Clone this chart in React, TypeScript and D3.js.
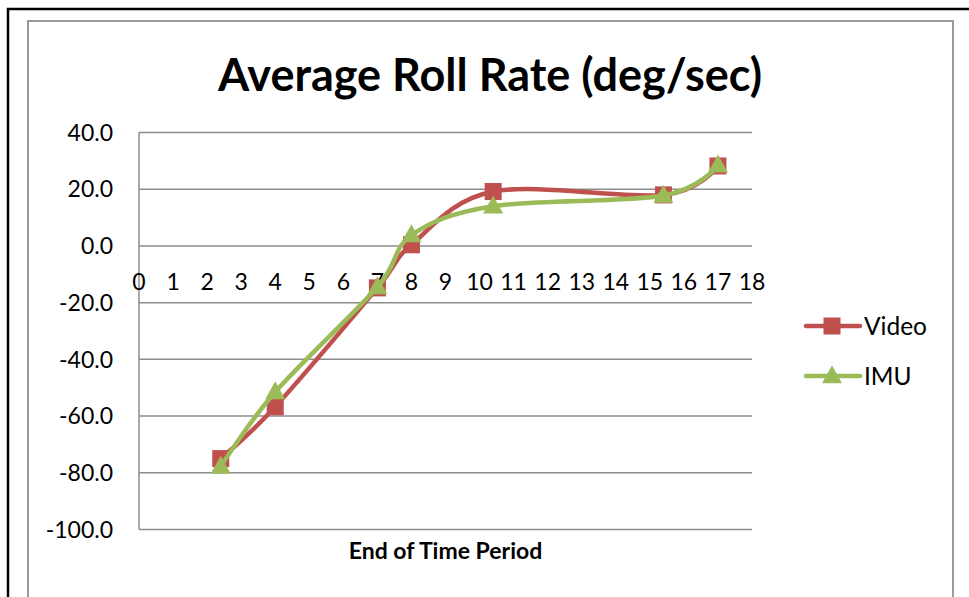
import React, { useEffect } from "react";
import * as d3 from "d3";

const seriesNames = ["Video", "IMU"];
const timePoints = [2.4, 4.0, 7.0, 8.0, 10.4, 15.4, 17.0];
const videoValues = [-75.0, -56.7, -14.8, 0.4, 19.2, 18.0, 28.2];
const imuValues = [-77.8, -51.5, -14.5, 3.8, 14.0, 17.8, 28.4];
const xTickValues = d3.range(0, 19);
const yTickValues = [40, 20, 0, -20, -40, -60, -80, -100];

const W = 969;
const H = 597;
const FONT = "Lato, 'Open Sans', sans-serif";
const RED = "#C0504D";
const GREEN = "#9BBB59";

export default function App() {
  useEffect(() => {
    document.body.style.margin = "0";
    document.body.style.overflow = "hidden";
  }, []);

  const x = d3.scaleLinear().domain([0, 18]).range([139, 752]);
  const y = d3.scaleLinear().domain([-100, 40]).range([529.5, 132.5]);

  const line = d3
    .line<[number, number]>()
    .x((d) => x(d[0]))
    .y((d) => y(d[1]))
    .curve(d3.curveCardinal.tension(0));

  const videoPts = timePoints.map((t, i) => [t, videoValues[i]] as [number, number]);
  const imuPts = timePoints.map((t, i) => [t, imuValues[i]] as [number, number]);

  const sq = 17;
  const triW = 20;
  const triH = 18;
  const tri = (cx: number, cy: number) =>
    `M${cx},${cy - triH * 0.6}L${cx + triW / 2},${cy + triH * 0.4}L${cx - triW / 2},${cy + triH * 0.4}Z`;

  const legendY = [326, 376];

  return (
    <svg width={W} height={H} style={{ position: "absolute", left: 0, top: 0, background: "#fff" }}>
      <rect x={0} y={0} width={W} height={H} fill="#fff" />
      {/* outer black frame */}
      <path d={`M8,${H + 5}L8,9L${W + 5},9`} fill="none" stroke="#000" strokeWidth={2.5} />
      {/* inner gray chart frame */}
      <path d={`M28,${H + 5}L28,21L953,21L953,${H + 5}`} fill="none" stroke="#9a9a9a" strokeWidth={2} />

      {/* title */}
      <text
        x={490}
        y={91}
        textAnchor="middle"
        fontFamily={FONT}
        fontWeight="bold"
        fontSize={45}
        fill="#000"
      >
        Average Roll Rate (deg/sec)
      </text>

      {/* gridlines */}
      {yTickValues.map((v) => (
        <line key={v} x1={x(0)} x2={x(18)} y1={y(v)} y2={y(v)} stroke="#8c8c8c" strokeWidth={1.5} />
      ))}
      {/* y axis */}
      <line x1={x(0)} x2={x(0)} y1={y(40)} y2={y(-100)} stroke="#8c8c8c" strokeWidth={1.5} />

      {/* y tick labels */}
      {yTickValues.map((v) => (
        <text
          key={v}
          x={113}
          y={y(v)}
          dy="0.36em"
          textAnchor="end"
          fontFamily={FONT}
          fontSize={23}
          fill="#000"
        >
          {v.toFixed(1)}
        </text>
      ))}

      {/* x tick labels */}
      {xTickValues.map((v) => (
        <text
          key={v}
          x={x(v)}
          y={290}
          textAnchor="middle"
          fontFamily={FONT}
          fontSize={23}
          fill="#000"
        >
          {v}
        </text>
      ))}

      {/* x axis title */}
      <text
        x={(x(0) + x(18)) / 2}
        y={559}
        textAnchor="middle"
        fontFamily={FONT}
        fontWeight="bold"
        fontSize={23}
        fill="#000"
      >
        End of Time Period
      </text>

      {/* Video series */}
      <path d={line(videoPts) || ""} fill="none" stroke={RED} strokeWidth={4.5} strokeLinejoin="round" strokeLinecap="round" />
      {videoPts.map((p, i) => (
        <rect key={i} x={x(p[0]) - sq / 2} y={y(p[1]) - sq / 2} width={sq} height={sq} fill={RED} />
      ))}

      {/* IMU series */}
      <path d={line(imuPts) || ""} fill="none" stroke={GREEN} strokeWidth={4.5} strokeLinejoin="round" strokeLinecap="round" />
      {imuPts.map((p, i) => (
        <path key={i} d={tri(x(p[0]), y(p[1]))} fill={GREEN} />
      ))}

      {/* legend */}
      {seriesNames.map((name, i) => (
        <g key={name}>
          <line
            x1={806}
            x2={860}
            y1={legendY[i]}
            y2={legendY[i]}
            stroke={i === 0 ? RED : GREEN}
            strokeWidth={4.5}
            strokeLinecap="round"
          />
          {i === 0 ? (
            <rect x={832 - sq / 2} y={legendY[i] - sq / 2} width={sq} height={sq} fill={RED} />
          ) : (
            <path d={tri(832, legendY[i])} fill={GREEN} />
          )}
          <text
            x={864}
            y={legendY[i]}
            dy="0.36em"
            fontFamily={FONT}
            fontSize={24.5}
            fill="#000"
          >
            {name}
          </text>
        </g>
      ))}
    </svg>
  );
}
